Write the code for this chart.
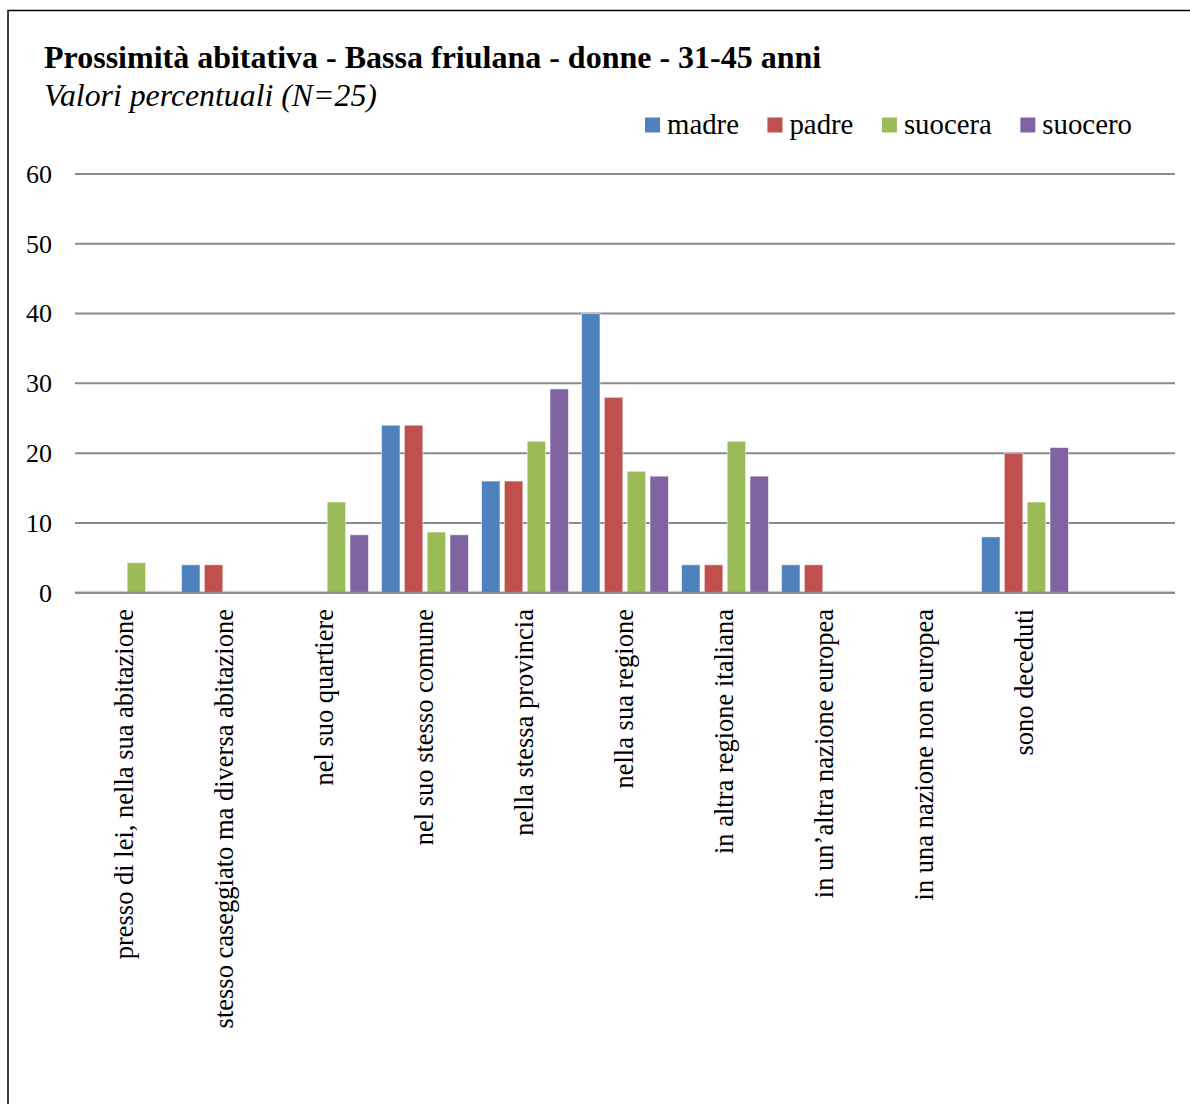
<!DOCTYPE html>
<html>
<head>
<meta charset="utf-8">
<script src="https://cdn.jsdelivr.net/npm/d3@7"></script>
<style>
  body { margin: 0; background: #fff; }
  svg text { font-family: 'Liberation Serif', 'Times New Roman', serif; fill: #000; }
</style>
</head>
<body>
<div id="chart"></div>
<script>
// categories (the last one is blank in the original sheet)
var categories = [
  'presso di lei, nella sua abitazione',
  'stesso caseggiato ma diversa abitazione',
  'nel suo quartiere',
  'nel suo stesso comune',
  'nella stessa provincia',
  'nella sua regione',
  'in altra regione italiana',
  'in un\u2019altra nazione europea',
  'in una nazione non europea',
  'sono deceduti',
  ''
]

var seriesNames = ['madre', 'padre', 'suocera', 'suocero']
var seriesColors = ['#4f81bd', '#c0504d', '#9bbb59', '#8064a2']

var madre = [0, 4, 0, 24, 16, 40, 4, 4, 0, 8, null]
var padre = [0, 4, 0, 24, 16, 28, 4, 4, 0, 20, null]
var suocera = [4.3, 0, 13.0, 8.7, 21.7, 17.4, 21.7, 0, 0, 13.0, null]
var suocero = [0, 0, 8.3, 8.3, 29.2, 16.7, 16.7, 0, 0, 20.8, null]

var yTicks = [0, 10, 20, 30, 40, 50, 60]

var width = 1190
var height = 1104

var svg = d3
  .select('#chart')
  .append('svg')
  .attr('width', width)
  .attr('height', height)

// outer frame
svg
  .append('rect')
  .attr('x', 8)
  .attr('y', 10.5)
  .attr('width', 1200)
  .attr('height', 1200)
  .attr('fill', 'none')
  .attr('stroke', '#000')
  .attr('stroke-width', 1.5)

svg
  .append('text')
  .attr('x', 44)
  .attr('y', 68)
  .attr('font-size', 32)
  .attr('font-weight', 'bold')
  .text('Prossimità abitativa - Bassa friulana - donne - 31-45 anni')

svg
  .append('text')
  .attr('x', 44)
  .attr('y', 106)
  .attr('font-size', 31.8)
  .attr('font-style', 'italic')
  .text('Valori percentuali (N=25)')

var x = d3
  .scaleBand()
  .domain(categories)
  .range([75, 1175])
  .paddingInner(0)
  .paddingOuter(0)

var xSeries = d3
  .scaleBand()
  .domain(seriesNames)
  .range([6.5, x.bandwidth() - 6.5])
  .paddingInner(0.19)

var y = d3
  .scaleLinear()
  .domain([0, 60])
  .range([592.7, 174])

// gridlines
svg
  .selectAll('.grid')
  .data(yTicks)
  .enter()
  .append('line')
  .attr('class', 'grid')
  .attr('x1', 75)
  .attr('x2', 1175)
  .attr('y1', d => y(d))
  .attr('y2', d => y(d))
  .attr('stroke', '#8a8a8a')
  .attr('stroke-width', 2)

svg
  .selectAll('.ytick')
  .data(yTicks)
  .enter()
  .append('text')
  .attr('class', 'ytick')
  .attr('x', 52)
  .attr('y', d => y(d))
  .attr('dy', '0.34em')
  .attr('text-anchor', 'end')
  .attr('font-size', 26)
  .text(d => d)

var allSeries = [madre, padre, suocera, suocero]

var rows = []
allSeries.forEach((vals, s) => {
  vals.forEach((v, i) => {
    if (v) rows.push({ cat: categories[i], series: seriesNames[s], color: seriesColors[s], value: v })
  })
})

svg
  .selectAll('.bar')
  .data(rows)
  .enter()
  .append('rect')
  .attr('class', 'bar')
  .attr('x', d => x(d.cat) + xSeries(d.series))
  .attr('y', d => y(d.value))
  .attr('width', xSeries.bandwidth())
  .attr('height', d => y(0) - y(d.value))
  .attr('fill', d => d.color)
  .attr('stroke', 'rgba(255,255,255,0.55)')
  .attr('stroke-width', 1)

// redraw the zero line on top of bars
svg
  .append('line')
  .attr('x1', 75)
  .attr('x2', 1175)
  .attr('y1', y(0))
  .attr('y2', y(0))
  .attr('stroke', '#8a8a8a')
  .attr('stroke-width', 2)

// category labels, rotated
svg
  .selectAll('.xlabel')
  .data(categories)
  .enter()
  .append('text')
  .attr('class', 'xlabel')
  .attr('transform', d => 'translate(' + (x(d) + x.bandwidth() / 2) + ',609) rotate(-90)')
  .attr('dy', 8)
  .attr('text-anchor', 'end')
  .attr('font-size', 26.5)
  .text(d => d)

// legend
var lx = 645
seriesNames.forEach((name, i) => {
  svg
    .append('rect')
    .attr('x', lx)
    .attr('y', 117.5)
    .attr('width', 15)
    .attr('height', 15)
    .attr('fill', seriesColors[i])
  var t = svg
    .append('text')
    .attr('x', lx + 22)
    .attr('y', 133.5)
    .attr('font-size', 28.8)
    .text(name)
  lx = lx + 22 + t.node().getComputedTextLength() + 28.5
})
</script>
</body>
</html>
